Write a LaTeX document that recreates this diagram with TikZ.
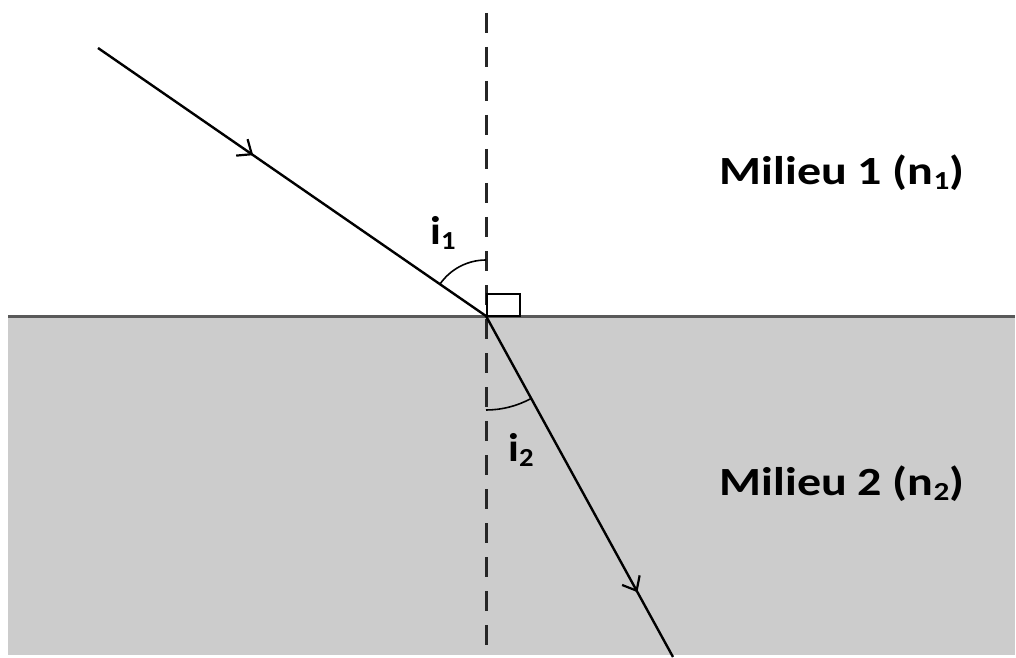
\documentclass[tikz,border=0pt]{standalone}
\usepackage{fontspec}
\setmainfont{Carlito}
\usetikzlibrary{arrows.meta,decorations.markings}
\newcommand{\lowsub}[1]{\raisebox{-0.12em}{\fontsize{26pt}{26pt}\selectfont #1}}
\tikzset{
  ray/.style={line width=2.4pt, black},
  normalline/.style={line width=3pt, black!85, dash pattern=on 20pt off 14pt},
  anglearc/.style={line width=1.6pt, black},
  medium/.style={font=\bfseries\fontsize{40pt}{40pt}\selectfont, inner sep=0pt},
  anglelabel/.style={font=\bfseries\fontsize{40pt}{40pt}\selectfont, inner sep=0pt},
  midarrow/.style={postaction={decorate, decoration={markings,
     mark=at position #1 with {\arrow{Straight Barb[length=12pt,width=20pt,line width=2.2pt]}}}}}
}
\begin{document}
\begin{tikzpicture}[x=1pt,y=1pt]
\useasboundingbox (0,0) rectangle (1016,657);
\fill[white] (0,0) rectangle (1016,657);
\fill[gray!40] (8,2) rectangle (1015,341);
\coordinate (O) at (486,341);
\coordinate (A) at (98,609);
\coordinate (B) at (673,0);
\coordinate (Ntop) at (486,644);
\coordinate (Nbot) at (486,0);
\coordinate (L) at (8,341);
\coordinate (R) at (1015,341);
\draw[line width=3pt, black!65] (L) -- (R);
\draw[normalline] (Ntop) -- (Nbot);
\draw[ray, midarrow=0.40] (A) -- (O);
\draw[ray, midarrow=0.81] (O) -- (B);
\draw[line width=2pt] (487,341) rectangle (520,363);
\draw[anglearc] (O) ++(90:56) arc[start angle=90, end angle=145, radius=56];
\draw[anglearc] (O) ++(270:94) arc[start angle=270, end angle=298.6, radius=94];
\node[anglelabel] (i1) at (443,424) {\scalebox{1.1}[1]{i\lowsub{1}}};
\node[anglelabel] (i2) at (521,207) {\scalebox{1.1}[1]{i\lowsub{2}}};
\node[medium] (m1) at (842,484) {\scalebox{1.2}[1]{Milieu 1 (n\lowsub{1})}};
\node[medium] (m2) at (842,173) {\scalebox{1.2}[1]{Milieu 2 (n\lowsub{2})}};
\end{tikzpicture}
\end{document}
